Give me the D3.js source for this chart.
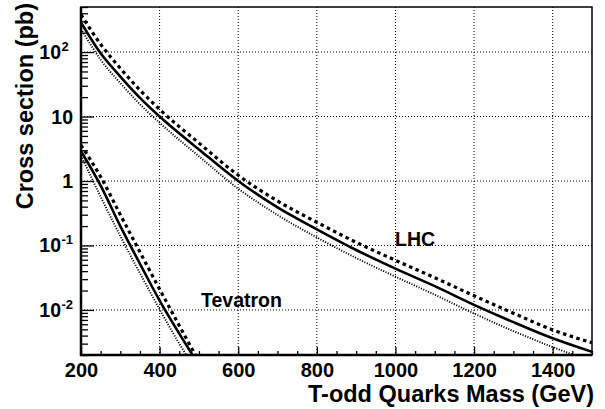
<!DOCTYPE html>
<html><head><meta charset="utf-8">
<script src="https://cdn.jsdelivr.net/npm/d3@7"></script>
<style>body{margin:0;background:#fff}svg{display:block}text{font-family:"Liberation Sans",Arial,sans-serif;font-weight:bold}</style>
</head><body><svg id="c" width="605" height="409"></svg>
<script>
// Data (cross section in pb vs mass in GeV)
const lhcMass = [200,250,300,350,400,500,600,700,800,900,1000,1100,1200,1300,1400,1500];
const lhcCentral = [288,95.5,41.7,19.5,10,3.09,1,0.389,0.178,0.0851,0.0437,0.0234,0.0120,0.00646,0.00363,0.00224];
const lhcUpper   = [380,132,56,25.7,12.9,3.89,1.23,0.49,0.229,0.112,0.0589,0.0316,0.0166,0.0089,0.0049,0.0031];
const lhcLower   = [230,76,33,15.5,8.0,2.42,0.76,0.297,0.133,0.064,0.0328,0.0172,0.0088,0.0047,0.00265,0.0016];
const tevMass = [200,250,300,350,400,450,500];
const tevCentral = [2.9,0.85,0.2,0.052,0.014,0.0043,0.0014];
const tevUpper   = [3.6,1.16,0.30,0.079,0.021,0.0057,0.0016];
const tevLower   = [2.5,0.57,0.14,0.037,0.0102,0.003,0.001];
const xTicks = [200,400,600,800,1000,1200,1400];
const yTicks = [0.01,0.1,1,10,100];
const yLabels = [["10","-2"],["10","-1"],["1",""],["10",""],["10","2"]];
const xTitle = "T-odd Quarks Mass (GeV)";
const yTitle = "Cross section (pb)";

const L=81,R=592,T=7,B=355;
const svg=d3.select("#c");
const x=d3.scaleLinear().domain([200,1500]).range([L,R]);
const y=d3.scaleLog().domain([0.002,500]).range([B,T]);

// grid
const g=svg.append("g");
g.selectAll(".gx").data(xTicks.slice(1)).join("line")
 .attr("x1",d=>x(d)).attr("x2",d=>x(d)).attr("y1",T).attr("y2",B)
 .attr("stroke","#000").attr("stroke-width",1).attr("stroke-dasharray","1,2");
g.selectAll(".gy").data(yTicks).join("line")
 .attr("x1",L).attr("x2",R).attr("y1",d=>y(d)).attr("y2",d=>y(d))
 .attr("stroke","#000").attr("stroke-width",1).attr("stroke-dasharray","1,2");

// minor ticks
const xMinor=d3.range(200,1501,50).filter(v=>v%200!==0);
const yMinor=[];
for(let k=-3;k<=2;k++)for(let m=2;m<=9;m++){const v=m*Math.pow(10,k);if(v>=0.002&&v<=500)yMinor.push(v);}
const xAxis=svg.append("g").attr("transform",`translate(0,${B})`)
 .call(d3.axisBottom(x).tickValues(xTicks).tickSize(-8).tickFormat(d=>d));
svg.append("g").attr("transform",`translate(0,${B})`)
 .call(d3.axisBottom(x).tickValues(xMinor).tickSize(-4).tickFormat(""));
svg.append("g").attr("transform",`translate(${L},0)`)
 .call(d3.axisLeft(y).tickValues(yTicks).tickSize(-13).tickFormat(""));
svg.append("g").attr("transform",`translate(${L},0)`)
 .call(d3.axisLeft(y).tickValues(yMinor).tickSize(-7).tickFormat(""));
svg.selectAll(".domain").remove();
svg.selectAll(".tick line").attr("stroke","#000").attr("stroke-width",1.3);
xAxis.selectAll("text").attr("font-size",20).attr("fill","#000").attr("y",22).attr("dy",0);

// y labels with superscripts
const yl=svg.append("g");
yTicks.forEach((v,i)=>{
  const [base,exp]=yLabels[i];
  yl.append("text").attr("x",exp?61:73).attr("y",y(v)+7).attr("text-anchor","end").attr("font-size",19.5).text(base);
  if(exp){yl.append("text").attr("x",61.5).attr("y",y(v)-1).attr("font-size",13).text(exp);}
});

// curves
svg.append("clipPath").attr("id","cl").append("rect").attr("x",L).attr("y",T).attr("width",R-L).attr("height",B-T);
const line=(xs)=>d3.line().x((d,i)=>x(xs[i])).y(d=>y(d)).curve(d3.curveMonotoneX);
const cg=svg.append("g").attr("clip-path","url(#cl)");
const series=[
 [lhcMass,lhcCentral,"solid"],[lhcMass,lhcUpper,"dash"],[lhcMass,lhcLower,"dot"],
 [tevMass,tevCentral,"solid"],[tevMass,tevUpper,"dash"],[tevMass,tevLower,"dot"]];
series.forEach(([xs,ys,st])=>{
  const p=cg.append("path").datum(ys).attr("d",line(xs)).attr("fill","none").attr("stroke","#000");
  if(st==="solid")p.attr("stroke-width",2.6);
  if(st==="dash")p.attr("stroke-width",3.2).attr("stroke-dasharray","3.5,3.5");
  if(st==="dot")p.attr("stroke-width",1.9).attr("stroke-dasharray","1.1,1.5");
});

// frame
svg.append("rect").attr("x",L).attr("y",T).attr("width",R-L).attr("height",B-T)
 .attr("fill","none").attr("stroke","#000").attr("stroke-width",1.5);
svg.append("line").attr("x1",L).attr("x2",L).attr("y1",T).attr("y2",B+1).attr("stroke","#000").attr("stroke-width",2.5);
svg.append("line").attr("x1",L-1).attr("x2",R).attr("y1",B).attr("y2",B).attr("stroke","#000").attr("stroke-width",2.5);

// labels
svg.append("text").attr("x",395).attr("y",246).attr("font-size",19.5).text("LHC");
svg.append("text").attr("x",201).attr("y",307).attr("font-size",19.5).text("Tevatron");
svg.append("text").attr("x",594).attr("y",402).attr("text-anchor","end").attr("font-size",23.5).text(xTitle);
svg.append("text").attr("transform","translate(33,3) rotate(-90)").attr("text-anchor","end").attr("font-size",23.5).text(yTitle);
</script></body></html>
